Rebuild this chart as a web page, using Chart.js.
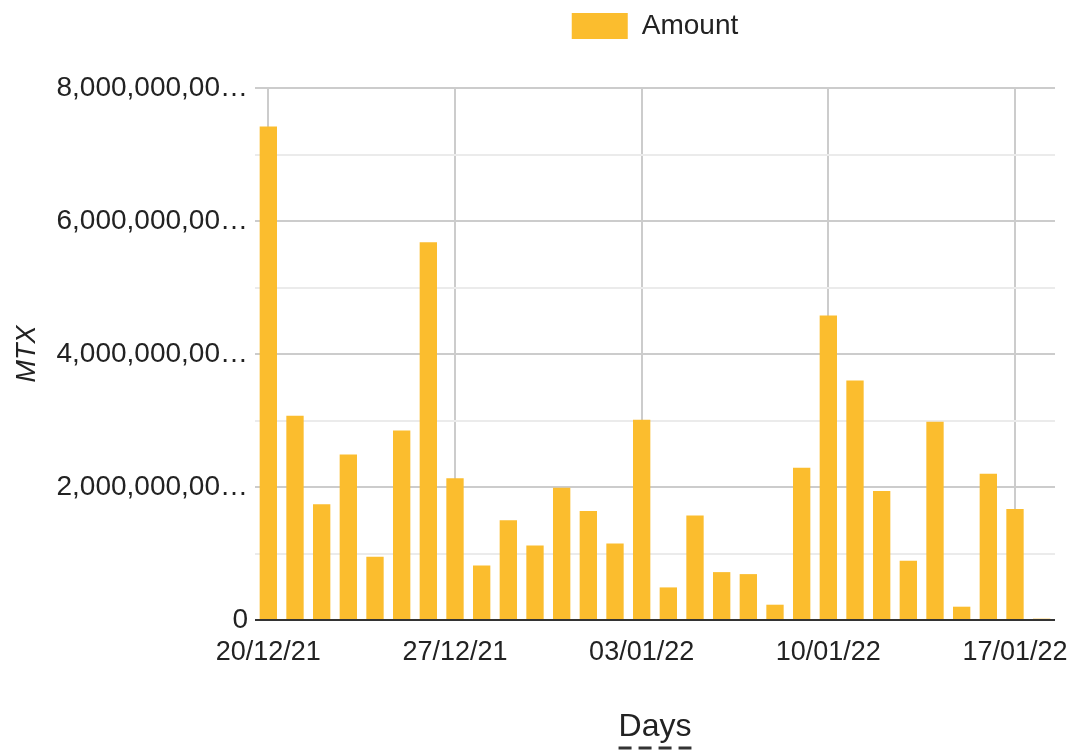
<!DOCTYPE html>
<html>
<head>
<meta charset="utf-8">
<script src="https://cdn.jsdelivr.net/npm/chart.js@4"></script>
<style>
  html, body { margin: 0; padding: 0; background: #fff; }
  #wrap { width: 1069px; height: 752px; }
</style>
</head>
<body>
<div id="wrap"><canvas id="amountChart"></canvas></div>
<script>
// Données
const days = [
  "20/12/21", "21/12/21", "22/12/21", "23/12/21", "24/12/21", "25/12/21", "26/12/21",
  "27/12/21", "28/12/21", "29/12/21", "30/12/21", "31/12/21", "01/01/22", "02/01/22",
  "03/01/22", "04/01/22", "05/01/22", "06/01/22", "07/01/22", "08/01/22", "09/01/22",
  "10/01/22", "11/01/22", "12/01/22", "13/01/22", "14/01/22", "15/01/22", "16/01/22",
  "17/01/22", "18/01/22"
];
const amounts = [
  7.42e9, 3.07e9, 1.74e9, 2.49e9, 0.95e9, 2.85e9, 5.68e9,
  2.13e9, 0.82e9, 1.50e9, 1.12e9, 1.99e9, 1.64e9, 1.15e9,
  3.01e9, 0.49e9, 1.57e9, 0.72e9, 0.69e9, 0.23e9, 2.29e9,
  4.58e9, 3.60e9, 1.94e9, 0.89e9, 2.98e9, 0.20e9, 2.20e9,
  1.67e9, 0.02e9
];
const yMax = 8e9;
const yStep = 1e9;
const labelEvery = 2e9;   // étiquettes Y tous les 2 milliards
const xLabelEvery = 7;    // une étiquette par semaine

const FONT = "'Liberation Sans', Arial, sans-serif";
const BAR = "#FBBD2E";

// Tronquer les étiquettes longues comme sur l'original
function yLabel(v) {
    const s = Number(v).toLocaleString("en-US");
    return s.length > 12 ? s.slice(0, 12) + "\u2026" : s;
}

// Plus d'espace sous la légende
const legendSpace = {
    id: "legendSpace",
    beforeInit(chart) {
        const fit = chart.legend.fit;
        chart.legend.fit = function () {
            fit.bind(chart.legend)();
            this.height += 38;
        };
    },
    afterLayout(chart) {
        // légende centrée sur la zone du graphique
        chart.legend.left = chart.chartArea.left;
        chart.legend.right = chart.chartArea.right;
    }
};

// Soulignement pointillé sous le titre "Days"
const dashedTitle = {
    id: "dashedTitle",
    afterDraw(chart) {
        const x = chart.scales.x;
        const ctx = chart.ctx;
        ctx.save();
        ctx.font = "32px " + FONT;
        const w = ctx.measureText("Days").width;
        const cx = (x.left + x.right) / 2;
        const y = x.bottom - 4;
        ctx.strokeStyle = "#333";
        ctx.lineWidth = 3;
        ctx.setLineDash([13, 7]);
        ctx.beginPath();
        ctx.moveTo(cx - w / 2, y);
        ctx.lineTo(cx + w / 2, y);
        ctx.stroke();
        ctx.restore();
    }
};

new Chart(document.getElementById("amountChart"), {
    type: "bar",
    data: {
        labels: days,
        datasets: [{
            label: "Amount",
            data: amounts,
            backgroundColor: BAR,
            borderWidth: 0,
            categoryPercentage: 1,
            barPercentage: 0.65
        }]
    },
    options: {
        responsive: true,
        maintainAspectRatio: false,
        animation: false,
        layout: { padding: { left: 0, right: 14, top: 0, bottom: 0 } },
        plugins: {
            tooltip: { enabled: false },
            legend: {
                position: "top",
                labels: {
                    boxWidth: 56,
                    boxHeight: 26,
                    padding: 12,
                    color: "#222",
                    font: { family: FONT, size: 28 }
                }
            }
        },
        scales: {
            x: {
                offset: true,
                border: { display: false },
                grid: {
                    offset: false,
                    drawTicks: false,
                    lineWidth: 2,
                    color: c => (c.index % xLabelEvery === 0 ? "#cccccc" : "rgba(0,0,0,0)")
                },
                ticks: {
                    autoSkip: false,
                    maxRotation: 0,
                    padding: 16,
                    color: "#222",
                    font: { family: FONT, size: 27 },
                    callback: function (v, i) {
                        return i % xLabelEvery === 0 ? this.getLabelForValue(v) : "";
                    }
                },
                title: {
                    display: true,
                    text: "Days",
                    color: "#222",
                    font: { family: FONT, size: 32 },
                    padding: { top: 0, bottom: 6 }
                },
                afterFit: s => { s.height = 132; }
            },
            y: {
                min: 0,
                max: yMax,
                border: { display: false },
                grid: {
                    drawTicks: false,
                    lineWidth: 2,
                    color: c => {
                        if (!c.tick) return "#ebebeb";
                        if (c.tick.value === 0) return "#333333";
                        return c.tick.value % labelEvery === 0 ? "#cccccc" : "#ebebeb";
                    }
                },
                ticks: {
                    stepSize: yStep,
                    padding: 7,
                    color: "#222",
                    font: { family: FONT, size: 28 },
                    callback: v => (v % labelEvery === 0 ? yLabel(v) : "")
                },
                title: {
                    display: true,
                    text: "MTX",
                    color: "#222",
                    font: { family: FONT, size: 27, style: "italic" },
                    padding: { top: 11, bottom: 0 }
                },
                afterFit: s => { s.width = 255; }
            }
        }
    },
    plugins: [legendSpace, dashedTitle]
});
</script>
</body>
</html>
